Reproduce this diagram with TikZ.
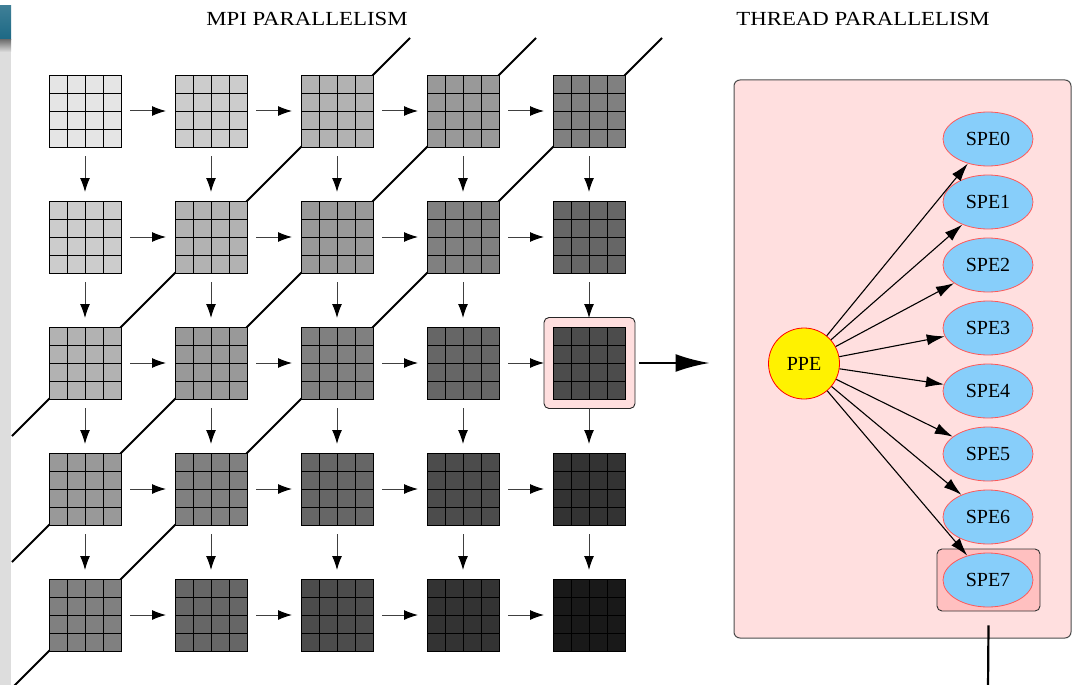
\documentclass[tikz,border=0pt]{standalone}
\usepackage{fontspec}
\setmainfont{Liberation Serif}
\usetikzlibrary{arrows.meta,shapes.geometric,calc}

\definecolor{panelpink}{RGB}{255,223,223}
\definecolor{boxpink}{RGB}{255,192,192}
\definecolor{spefill}{RGB}{135,206,250}
\definecolor{stripgray}{RGB}{221,221,221}
\definecolor{stripteal}{RGB}{28,104,132}

\begin{document}
\begin{tikzpicture}[x=1pt,y=-1pt,
  cellbox/.style={draw=black, line width=0.9pt, minimum size=72pt, inner sep=0pt, outer sep=0pt},
  cellgrid/.style={draw=black, line width=0.8pt},
  flow/.style={draw=black!75, line width=1pt, -{Latex[length=14pt,width=10pt,black]}, shorten <=9pt, shorten >=9pt},
  diag/.style={draw=black, line width=1.9pt},
  hlbox/.style={draw=black!85, fill=panelpink, rounded corners=5pt, line width=0.9pt, minimum size=91pt, inner sep=0pt},
  bigarrow/.style={draw=black, line width=2.4pt, -{Latex[length=34pt,width=18pt]}},
  title/.style={inner sep=0pt},
  panelbox/.style={draw=black!70, fill=panelpink, rounded corners=6pt, line width=1pt, inner sep=0pt},
  spebox/.style={draw=black!80, fill=boxpink, rounded corners=5pt, line width=0.9pt, inner sep=0pt},
  spe/.style={ellipse, draw=red!65, fill=spefill, line width=0.8pt, minimum width=90pt, minimum height=54pt, inner sep=0pt, font=\fontsize{20}{20}\selectfont},
  ppe/.style={circle, draw=red, fill=yellow, line width=0.8pt, minimum size=71pt, inner sep=0pt, font=\fontsize{20}{20}\selectfont},
  edge/.style={draw=black, line width=1.1pt, -{Latex[length=18pt,width=11pt]}},
  tail/.style={draw=black, line width=2.2pt}
]
\path[use as bounding box] (0,0) rectangle (1072,685);
\clip (0,0) rectangle (1072,685);

% side strip
\fill[stripgray] (0,6) rectangle (11,685);
\shade[top color=stripteal!85, bottom color=stripteal] (0,6) rectangle (11,40);
\shade[top color=black!55, bottom color=stripgray] (0,40) rectangle (11,52);

% titles
\node[title] (mpititle) at (307,19) {\scalebox{1.14}[1]{\fontsize{20}{20}\selectfont MPI PARALLELISM}};
\node[title] (thrtitle) at (863,19) {\scalebox{1.14}[1]{\fontsize{20}{20}\selectfont THREAD PARALLELISM}};

% anti-diagonal wavefronts (drawn under the blocks)
\draw[diag] (12,436) -- (410,38);
\draw[diag] (12,562) -- (536,38);
\draw[diag] (12,688) -- (662,38);

% highlighted block frame
\node[hlbox] (hl) at (589.5,363) {};

% 5x5 grid of 4x4 blocks, shade by wavefront index c+r
\foreach \c in {0,...,4}{
  \foreach \r in {0,...,4}{
    \pgfmathtruncatemacro{\pct}{10+10*(\c+\r)}
    \node[cellbox, fill=black!\pct] (b\c\r) at (85+126*\c, 111+126*\r) {};
    \foreach \i in {1,2,3}{
      \draw[cellgrid] ($(b\c\r.north west)!\i/4!(b\c\r.north east)$) -- ($(b\c\r.south west)!\i/4!(b\c\r.south east)$);
      \draw[cellgrid] ($(b\c\r.north west)!\i/4!(b\c\r.south west)$) -- ($(b\c\r.north east)!\i/4!(b\c\r.south east)$);
    }
    \draw[draw=black, line width=0.9pt] (b\c\r.north west) rectangle (b\c\r.south east);
  }
}

% dependencies between neighbouring blocks
\foreach \c [evaluate=\c as \n using int(\c+1)] in {0,...,3}{
  \foreach \r in {0,...,4}{
    \draw[flow] (b\c\r.east) -- (b\n\r.west);
    \draw[flow] (b\r\c.south) -- (b\r\n.north);
  }
}

% thread panel
\node[panelbox, minimum width=337pt, minimum height=558pt] (panel) at (902.5,359) {};
\draw[bigarrow, shorten <=4pt, shorten >=24pt] (hl.east) -- (hl.east -| panel.west);

\node[spebox, minimum width=103pt, minimum height=62pt] (spebx) at (988.5,580) {};

\node[ppe] (ppe) at (804,363.5) {PPE};
\foreach \i in {0,...,7}{
  \node[spe] (spe\i) at (988,139+63*\i) {SPE\i};
}
\foreach \i in {0,...,7}{
  \draw[edge] (ppe) -- (spe\i);
}

% link leaving the SPE7 frame
\coordinate (tailend) at (988,690);
\draw[tail] ($(spebx.south)+(0,14)$) -- (tailend);
\end{tikzpicture}
\end{document}
